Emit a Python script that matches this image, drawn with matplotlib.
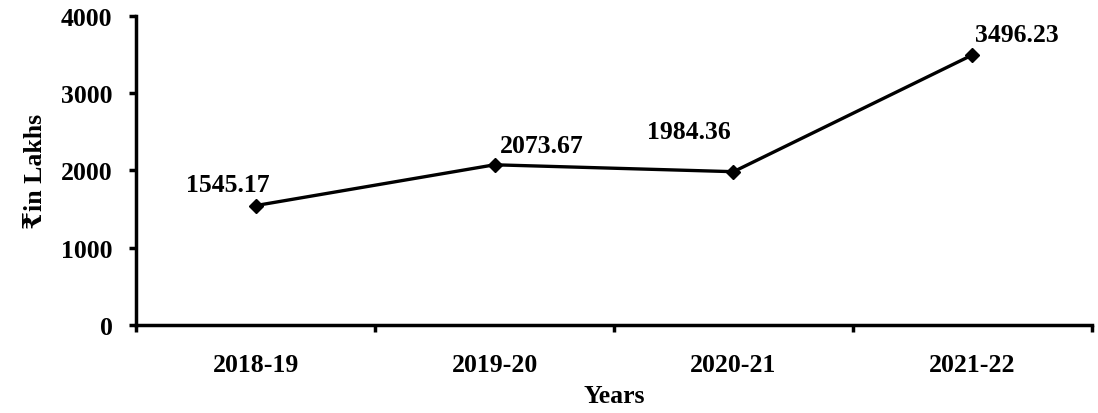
import matplotlib
matplotlib.use('Agg')
import matplotlib.pyplot as plt

# Dados do gráfico
anos = ['2018-19', '2019-20', '2020-21', '2021-22']
valores = [1545.17, 2073.67, 1984.36, 3496.23]
rotulos = ['1545.17', '2073.67', '1984.36', '3496.23']
# deslocamento dos rótulos (pontos)
desloc = [(-20, 15), (34, 14), (-32, 29), (32, 15)]

plt.rcParams['font.family'] = ['Liberation Serif', 'DejaVu Serif']
plt.rcParams['font.weight'] = 'bold'

fig = plt.figure(figsize=(10.98, 4.14), dpi=100)
ax = fig.add_axes([0.1239, 0.2126, 0.8706, 0.7464])

x = list(range(len(anos)))
ax.plot(x, valores, color='black', linewidth=2.4, marker='D', markersize=7.5)

for xi, v, r, d in zip(x, valores, rotulos, desloc):
    ax.annotate(r, (xi, v), xytext=d, textcoords='offset points',
                ha='center', va='center', fontsize=18.5, fontweight='bold')

ax.set_xlim(-0.5, len(anos) - 0.5)
ax.set_ylim(0, 4000)
ax.set_yticks([0, 1000, 2000, 3000, 4000])
ax.set_xticks(x)
ax.set_xticklabels(anos)
ax.set_xticks([i - 0.5 for i in range(len(anos) + 1)], minor=True)
ax.tick_params(axis='x', which='major', length=0, pad=20, labelsize=18.5)
ax.tick_params(axis='x', which='minor', length=5, width=2.5, direction='out')
ax.tick_params(axis='y', length=5, width=2.5, pad=12, labelsize=18.5)
for lab in ax.get_xticklabels() + ax.get_yticklabels():
    lab.set_fontweight('bold')

for s in ['top', 'right']:
    ax.spines[s].set_visible(False)
for s in ['left', 'bottom']:
    ax.spines[s].set_linewidth(2.5)

ax.set_xlabel('Years', fontsize=18.5, fontweight='bold', labelpad=6)
ax.set_ylabel('₹in Lakhs', fontsize=18.5, fontweight='bold', labelpad=10)

fig.savefig('out.png', dpi=100)
